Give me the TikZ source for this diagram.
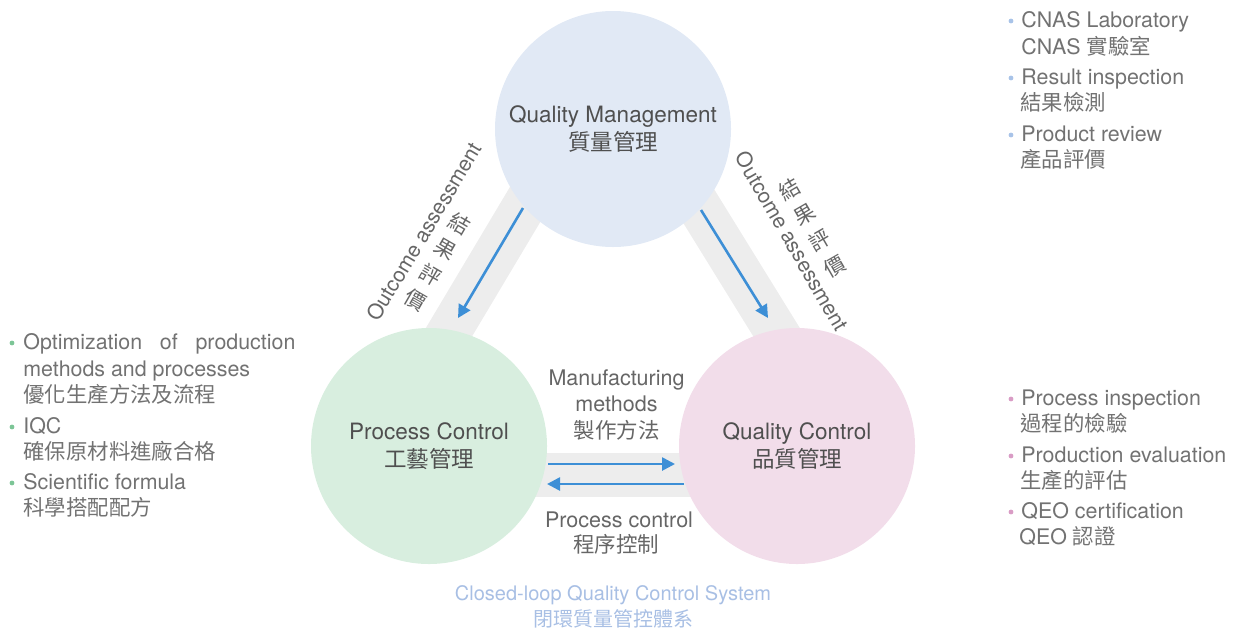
\documentclass[tikz,border=0pt]{standalone}
\usepackage{fontspec}
\setmainfont{TeX Gyre Heros}
\newfontfamily\cjkfont{Noto Sans CJK TC}
\newcommand{\ZH}[1]{{\cjkfont #1}}
\usetikzlibrary{arrows.meta}
\definecolor{cTop}{HTML}{E1E9F5}
\definecolor{cLeft}{HTML}{D8EEDF}
\definecolor{cRight}{HTML}{F2DDEA}
\definecolor{cBand}{HTML}{EDEDED}
\definecolor{cArrow}{HTML}{3D8FD6}
\definecolor{cDark}{HTML}{4F4F4F}
\definecolor{cLabel}{HTML}{666666}
\definecolor{cList}{HTML}{727272}
\definecolor{cCap}{HTML}{A8BFE4}
\definecolor{dBlue}{HTML}{A8C3E8}
\definecolor{dGreen}{HTML}{7CC596}
\definecolor{dPink}{HTML}{D99CC5}
\begin{document}
\begin{tikzpicture}[x=0.5pt,y=-0.5pt,
  circ/.style={circle, inner sep=0pt, minimum size=118pt, align=center, text=cDark,
    font=\fontsize{11.25}{14}\selectfont},
  band/.style={draw=cBand, line width=22pt},
  flow/.style={draw=cArrow, line width=1.3pt, -{Triangle[length=6.5pt,width=6.5pt]}},
  lbl/.style={text=cLabel, inner sep=0pt, text height=9.7pt, text depth=2pt,
    font=\fontsize{10.75}{13}\selectfont},
  rlbl/.style={text=cLabel, inner sep=0pt, font=\fontsize{10.5}{12}\selectfont},
  lst/.style={text=cList, inner sep=0pt, anchor=west, text height=9.7pt, text depth=2pt,
    font=\fontsize{10.7}{13}\selectfont},
  bul/.style={circle, inner sep=0pt, minimum size=2.4pt},
  captxt/.style={text=cCap, inner sep=0pt, text height=9.2pt, text depth=2pt,
    font=\fontsize{10}{12}\selectfont},
  zhrot/.style={text=cLabel, inner sep=0pt, font=\cjkfont\fontsize{10.5}{12}\selectfont}]
\useasboundingbox (0,0) rectangle (1234,633);

% gray bands
\coordinate (b1s) at (557.6,150);
\coordinate (b1e) at (390.6,430);
\coordinate (b2s) at (664,150);
\coordinate (b2e) at (837,430);
\coordinate (b3s) at (429,474.5);
\coordinate (b3e) at (797,474.5);
\draw[band] (b1s) -- (b1e);
\draw[band] (b2s) -- (b2e);
\draw[band] (b3s) -- (b3e);

% circles
\node[circ, fill=cTop] (qm) at (613,129) {Quality Management\\\ZH{質量管理}};
\node[circ, fill=cLeft] (pc) at (429,446) {Process Control\\\ZH{工藝管理}};
\node[circ, fill=cRight] (qc) at (797,446) {Quality Control\\\ZH{品質管理}};

% arrows
\coordinate (a1s) at (523,208);
\coordinate (a1e) at (458,318);
\coordinate (a2s) at (701,210);
\coordinate (a2e) at (768,318);
\coordinate (a3s) at (548,464);
\coordinate (a3e) at (675,464);
\coordinate (a4s) at (684,484);
\coordinate (a4e) at (547,484);
\draw[flow] (a1s) -- (a1e);
\draw[flow] (a2s) -- (a2e);
\draw[flow] (a3s) -- (a3e);
\draw[flow] (a4s) -- (a4e);

% rotated labels
\node[rlbl, rotate=59] (oaL) at (424,232) {Outcome assessment};
\node[zhrot, rotate=-30] (zl1) at (460,224) {結};
\node[zhrot, rotate=-30] (zl2) at (445.3,249.3) {果};
\node[zhrot, rotate=-30] (zl3) at (430.6,274.6) {評};
\node[zhrot, rotate=-30] (zl4) at (415.9,299.9) {價};

\node[rlbl, rotate=-60] (oaR) at (792,241) {Outcome assessment};
\node[zhrot, rotate=30] (zr1) at (790,189) {結};
\node[zhrot, rotate=30] (zr2) at (805,214.7) {果};
\node[zhrot, rotate=30] (zr3) at (820,240.4) {評};
\node[zhrot, rotate=30] (zr4) at (835,266.1) {價};

% middle labels
\node[lbl] (m1) at (616.5,378) {Manufacturing};
\node[lbl] (m2) at (616.5,404) {methods};
\node[lbl] (m3) at (616.5,431) {\ZH{製作方法}};
\node[lbl] (p1) at (619,520) {Process control};
\node[lbl] (p2) at (616,545) {\ZH{程序控制}};

% top-right list
\node[bul, fill=dBlue] (rb1) at (1011,21) {};
\node[lst] (r1) at (1021,20) {CNAS Laboratory};
\node[lst] (r2) at (1021,47) {CNAS \ZH{實驗室}};
\node[bul, fill=dBlue] (rb2) at (1011,78) {};
\node[lst] (r3) at (1021,77) {Result inspection};
\node[lst] (r4) at (1020,103) {\ZH{結果檢測}};
\node[bul, fill=dBlue] (rb3) at (1011,135) {};
\node[lst] (r5) at (1021,134) {Product review};
\node[lst] (r6) at (1020,160) {\ZH{產品評價}};

% bottom-right list
\node[bul, fill=dPink] (pb1) at (1011,399) {};
\node[lst] (q1) at (1021,398) {Process inspection};
\node[lst] (q2) at (1020,424) {\ZH{過程的檢驗}};
\node[bul, fill=dPink] (pb2) at (1011,456) {};
\node[lst] (q3) at (1021,455) {Production evaluation};
\node[lst] (q4) at (1020,481) {\ZH{生產的評估}};
\node[bul, fill=dPink] (pb3) at (1011,512) {};
\node[lst] (q5) at (1021,511) {QEO certification};
\node[lst] (q6) at (1019,537) {QEO \ZH{認證}};

% left list
\node[bul, fill=dGreen] (gb1) at (12,343) {};
\node[lst] (g1) at (23,342) {\makebox[136pt][s]{Optimization of production}};
\node[lst] (g2) at (23,369) {methods and processes};
\node[lst] (g3) at (23,395) {\ZH{優化生產方法及流程}};
\node[bul, fill=dGreen] (gb2) at (12,427) {};
\node[lst] (g4) at (23,426) {IQC};
\node[lst] (g5) at (23,452) {\ZH{確保原材料進廠合格}};
\node[bul, fill=dGreen] (gb3) at (12,483) {};
\node[lst] (g6) at (23,482) {Scientific formula};
\node[lst] (g7) at (23,508) {\ZH{科學搭配配方}};

% caption
\node[captxt] (c1) at (613,593) {Closed-loop Quality Control System};
\node[captxt] (c2) at (613,619) {\ZH{閉環質量管控體系}};
\end{tikzpicture}
\end{document}
